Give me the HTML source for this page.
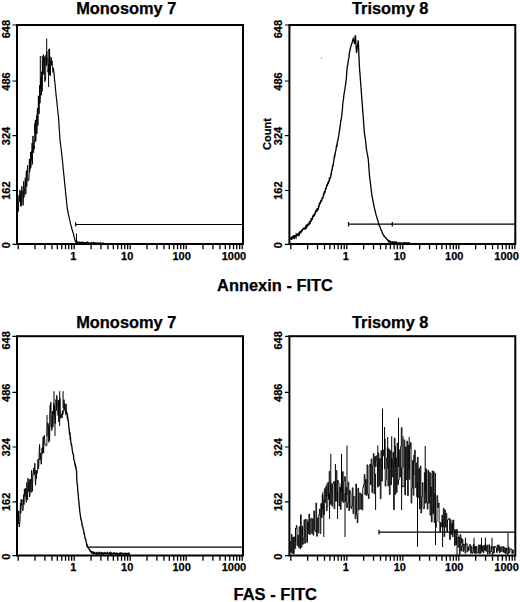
<!DOCTYPE html>
<html><head><meta charset="utf-8"><style>html,body{margin:0;padding:0;background:#fff;}svg{display:block;}</style></head>
<body><svg width="520" height="602" viewBox="0 0 520 602">
<rect width="520" height="602" fill="#fff"/>
<rect x="17" y="25" width="226.00" height="219.00" fill="none" stroke="#000" stroke-width="2"/>
<path d="M18.20 244V249.2M35.06 244V249.2M44.92 244V249.2M51.92 244V249.2M57.34 244V249.2M61.78 244V249.2M65.53 244V249.2M68.77 244V249.2M71.64 244V249.2M74.20 244V249.2M91.06 244V249.2M100.92 244V249.2M107.92 244V249.2M113.34 244V249.2M117.78 244V249.2M121.53 244V249.2M124.77 244V249.2M127.64 244V249.2M130.20 244V249.2M147.06 244V249.2M156.92 244V249.2M163.92 244V249.2M169.34 244V249.2M173.78 244V249.2M177.53 244V249.2M180.77 244V249.2M183.64 244V249.2M186.20 244V249.2M203.06 244V249.2M212.92 244V249.2M219.92 244V249.2M225.34 244V249.2M229.78 244V249.2M233.53 244V249.2M236.77 244V249.2M239.64 244V249.2M242.20 244V249.2" stroke="#000" stroke-width="1.3" fill="none"/>
<path d="M12.50 25.00H17M12.50 81.00H17M12.50 135.70H17M12.50 190.50H17M12.50 244.40H17" stroke="#000" stroke-width="1.2" fill="none"/>
<rect x="289.4" y="25" width="225.90" height="219.00" fill="none" stroke="#000" stroke-width="2"/>
<path d="M290.80 244V249.2M307.66 244V249.2M317.52 244V249.2M324.52 244V249.2M329.94 244V249.2M334.38 244V249.2M338.13 244V249.2M341.37 244V249.2M344.24 244V249.2M346.80 244V249.2M363.66 244V249.2M373.52 244V249.2M380.52 244V249.2M385.94 244V249.2M390.38 244V249.2M394.13 244V249.2M397.37 244V249.2M400.24 244V249.2M402.80 244V249.2M419.66 244V249.2M429.52 244V249.2M436.52 244V249.2M441.94 244V249.2M446.38 244V249.2M450.13 244V249.2M453.37 244V249.2M456.24 244V249.2M458.80 244V249.2M475.66 244V249.2M485.52 244V249.2M492.52 244V249.2M497.94 244V249.2M502.38 244V249.2M506.13 244V249.2M509.37 244V249.2M512.24 244V249.2M514.80 244V249.2" stroke="#000" stroke-width="1.3" fill="none"/>
<path d="M284.90 25.00H289.4M284.90 81.00H289.4M284.90 135.70H289.4M284.90 190.50H289.4M284.90 244.40H289.4" stroke="#000" stroke-width="1.2" fill="none"/>
<rect x="17" y="336.2" width="226.00" height="219.30" fill="none" stroke="#000" stroke-width="2"/>
<path d="M18.20 555.5V560.7M35.06 555.5V560.7M44.92 555.5V560.7M51.92 555.5V560.7M57.34 555.5V560.7M61.78 555.5V560.7M65.53 555.5V560.7M68.77 555.5V560.7M71.64 555.5V560.7M74.20 555.5V560.7M91.06 555.5V560.7M100.92 555.5V560.7M107.92 555.5V560.7M113.34 555.5V560.7M117.78 555.5V560.7M121.53 555.5V560.7M124.77 555.5V560.7M127.64 555.5V560.7M130.20 555.5V560.7M147.06 555.5V560.7M156.92 555.5V560.7M163.92 555.5V560.7M169.34 555.5V560.7M173.78 555.5V560.7M177.53 555.5V560.7M180.77 555.5V560.7M183.64 555.5V560.7M186.20 555.5V560.7M203.06 555.5V560.7M212.92 555.5V560.7M219.92 555.5V560.7M225.34 555.5V560.7M229.78 555.5V560.7M233.53 555.5V560.7M236.77 555.5V560.7M239.64 555.5V560.7M242.20 555.5V560.7" stroke="#000" stroke-width="1.3" fill="none"/>
<path d="M12.50 336.30H17M12.50 392.30H17M12.50 447.00H17M12.50 501.80H17M12.50 555.70H17" stroke="#000" stroke-width="1.2" fill="none"/>
<rect x="289.4" y="336.2" width="225.90" height="219.30" fill="none" stroke="#000" stroke-width="2"/>
<path d="M290.80 555.5V560.7M307.66 555.5V560.7M317.52 555.5V560.7M324.52 555.5V560.7M329.94 555.5V560.7M334.38 555.5V560.7M338.13 555.5V560.7M341.37 555.5V560.7M344.24 555.5V560.7M346.80 555.5V560.7M363.66 555.5V560.7M373.52 555.5V560.7M380.52 555.5V560.7M385.94 555.5V560.7M390.38 555.5V560.7M394.13 555.5V560.7M397.37 555.5V560.7M400.24 555.5V560.7M402.80 555.5V560.7M419.66 555.5V560.7M429.52 555.5V560.7M436.52 555.5V560.7M441.94 555.5V560.7M446.38 555.5V560.7M450.13 555.5V560.7M453.37 555.5V560.7M456.24 555.5V560.7M458.80 555.5V560.7M475.66 555.5V560.7M485.52 555.5V560.7M492.52 555.5V560.7M497.94 555.5V560.7M502.38 555.5V560.7M506.13 555.5V560.7M509.37 555.5V560.7M512.24 555.5V560.7M514.80 555.5V560.7" stroke="#000" stroke-width="1.3" fill="none"/>
<path d="M284.90 336.30H289.4M284.90 392.30H289.4M284.90 447.00H289.4M284.90 501.80H289.4M284.90 555.70H289.4" stroke="#000" stroke-width="1.2" fill="none"/>
<text transform="translate(9.8,29.1) rotate(-90)" text-anchor="middle" style="font-family:'Liberation Sans',sans-serif;font-weight:bold;stroke:#000;stroke-width:0.25px;font-size:11px">648</text>
<text transform="translate(9.8,81.5) rotate(-90)" text-anchor="middle" style="font-family:'Liberation Sans',sans-serif;font-weight:bold;stroke:#000;stroke-width:0.25px;font-size:11px">486</text>
<text transform="translate(9.8,136) rotate(-90)" text-anchor="middle" style="font-family:'Liberation Sans',sans-serif;font-weight:bold;stroke:#000;stroke-width:0.25px;font-size:11px">324</text>
<text transform="translate(9.8,190.6) rotate(-90)" text-anchor="middle" style="font-family:'Liberation Sans',sans-serif;font-weight:bold;stroke:#000;stroke-width:0.25px;font-size:11px">162</text>
<text transform="translate(9.8,245.3) rotate(-90)" text-anchor="middle" style="font-family:'Liberation Sans',sans-serif;font-weight:bold;stroke:#000;stroke-width:0.25px;font-size:11px">0</text>
<text transform="translate(282.3,29.1) rotate(-90)" text-anchor="middle" style="font-family:'Liberation Sans',sans-serif;font-weight:bold;stroke:#000;stroke-width:0.25px;font-size:11px">648</text>
<text transform="translate(282.3,81.5) rotate(-90)" text-anchor="middle" style="font-family:'Liberation Sans',sans-serif;font-weight:bold;stroke:#000;stroke-width:0.25px;font-size:11px">486</text>
<text transform="translate(282.3,136) rotate(-90)" text-anchor="middle" style="font-family:'Liberation Sans',sans-serif;font-weight:bold;stroke:#000;stroke-width:0.25px;font-size:11px">324</text>
<text transform="translate(282.3,190.6) rotate(-90)" text-anchor="middle" style="font-family:'Liberation Sans',sans-serif;font-weight:bold;stroke:#000;stroke-width:0.25px;font-size:11px">162</text>
<text transform="translate(282.3,245.3) rotate(-90)" text-anchor="middle" style="font-family:'Liberation Sans',sans-serif;font-weight:bold;stroke:#000;stroke-width:0.25px;font-size:11px">0</text>
<text transform="translate(9.8,340.40000000000003) rotate(-90)" text-anchor="middle" style="font-family:'Liberation Sans',sans-serif;font-weight:bold;stroke:#000;stroke-width:0.25px;font-size:11px">648</text>
<text transform="translate(9.8,392.8) rotate(-90)" text-anchor="middle" style="font-family:'Liberation Sans',sans-serif;font-weight:bold;stroke:#000;stroke-width:0.25px;font-size:11px">486</text>
<text transform="translate(9.8,447.3) rotate(-90)" text-anchor="middle" style="font-family:'Liberation Sans',sans-serif;font-weight:bold;stroke:#000;stroke-width:0.25px;font-size:11px">324</text>
<text transform="translate(9.8,501.9) rotate(-90)" text-anchor="middle" style="font-family:'Liberation Sans',sans-serif;font-weight:bold;stroke:#000;stroke-width:0.25px;font-size:11px">162</text>
<text transform="translate(9.8,556.6) rotate(-90)" text-anchor="middle" style="font-family:'Liberation Sans',sans-serif;font-weight:bold;stroke:#000;stroke-width:0.25px;font-size:11px">0</text>
<text transform="translate(282.3,340.40000000000003) rotate(-90)" text-anchor="middle" style="font-family:'Liberation Sans',sans-serif;font-weight:bold;stroke:#000;stroke-width:0.25px;font-size:11px">648</text>
<text transform="translate(282.3,392.8) rotate(-90)" text-anchor="middle" style="font-family:'Liberation Sans',sans-serif;font-weight:bold;stroke:#000;stroke-width:0.25px;font-size:11px">486</text>
<text transform="translate(282.3,447.3) rotate(-90)" text-anchor="middle" style="font-family:'Liberation Sans',sans-serif;font-weight:bold;stroke:#000;stroke-width:0.25px;font-size:11px">324</text>
<text transform="translate(282.3,501.9) rotate(-90)" text-anchor="middle" style="font-family:'Liberation Sans',sans-serif;font-weight:bold;stroke:#000;stroke-width:0.25px;font-size:11px">162</text>
<text transform="translate(282.3,556.6) rotate(-90)" text-anchor="middle" style="font-family:'Liberation Sans',sans-serif;font-weight:bold;stroke:#000;stroke-width:0.25px;font-size:11px">0</text>
<text transform="translate(270.9,134) rotate(-90)" text-anchor="middle" style="font-family:'Liberation Sans',sans-serif;font-weight:bold;stroke:#000;stroke-width:0.25px;font-size:11px">Count</text>
<text x="73.2" y="259.6" text-anchor="middle" style="font-family:'Liberation Sans',sans-serif;font-weight:bold;stroke:#000;stroke-width:0.25px;font-size:11px">1</text>
<text x="127.2" y="259.6" text-anchor="middle" style="font-family:'Liberation Sans',sans-serif;font-weight:bold;stroke:#000;stroke-width:0.25px;font-size:11px">10</text>
<text x="181.6" y="259.6" text-anchor="middle" style="font-family:'Liberation Sans',sans-serif;font-weight:bold;stroke:#000;stroke-width:0.25px;font-size:11px">100</text>
<text x="234" y="259.6" text-anchor="middle" style="font-family:'Liberation Sans',sans-serif;font-weight:bold;stroke:#000;stroke-width:0.25px;font-size:11px">1000</text>
<text x="345.8" y="259.6" text-anchor="middle" style="font-family:'Liberation Sans',sans-serif;font-weight:bold;stroke:#000;stroke-width:0.25px;font-size:11px">1</text>
<text x="399.8" y="259.6" text-anchor="middle" style="font-family:'Liberation Sans',sans-serif;font-weight:bold;stroke:#000;stroke-width:0.25px;font-size:11px">10</text>
<text x="454.20000000000005" y="259.6" text-anchor="middle" style="font-family:'Liberation Sans',sans-serif;font-weight:bold;stroke:#000;stroke-width:0.25px;font-size:11px">100</text>
<text x="506.6" y="259.6" text-anchor="middle" style="font-family:'Liberation Sans',sans-serif;font-weight:bold;stroke:#000;stroke-width:0.25px;font-size:11px">1000</text>
<text x="73.2" y="570.9" text-anchor="middle" style="font-family:'Liberation Sans',sans-serif;font-weight:bold;stroke:#000;stroke-width:0.25px;font-size:11px">1</text>
<text x="127.2" y="570.9" text-anchor="middle" style="font-family:'Liberation Sans',sans-serif;font-weight:bold;stroke:#000;stroke-width:0.25px;font-size:11px">10</text>
<text x="181.6" y="570.9" text-anchor="middle" style="font-family:'Liberation Sans',sans-serif;font-weight:bold;stroke:#000;stroke-width:0.25px;font-size:11px">100</text>
<text x="234" y="570.9" text-anchor="middle" style="font-family:'Liberation Sans',sans-serif;font-weight:bold;stroke:#000;stroke-width:0.25px;font-size:11px">1000</text>
<text x="345.8" y="570.9" text-anchor="middle" style="font-family:'Liberation Sans',sans-serif;font-weight:bold;stroke:#000;stroke-width:0.25px;font-size:11px">1</text>
<text x="399.8" y="570.9" text-anchor="middle" style="font-family:'Liberation Sans',sans-serif;font-weight:bold;stroke:#000;stroke-width:0.25px;font-size:11px">10</text>
<text x="454.20000000000005" y="570.9" text-anchor="middle" style="font-family:'Liberation Sans',sans-serif;font-weight:bold;stroke:#000;stroke-width:0.25px;font-size:11px">100</text>
<text x="506.6" y="570.9" text-anchor="middle" style="font-family:'Liberation Sans',sans-serif;font-weight:bold;stroke:#000;stroke-width:0.25px;font-size:11px">1000</text>
<text x="126.3" y="13.8" text-anchor="middle" style="font-family:'Liberation Sans',sans-serif;font-weight:bold;stroke:#000;stroke-width:0.25px;font-size:16.3px" textLength="100.3" lengthAdjust="spacingAndGlyphs">Monosomy 7</text>
<text x="390.2" y="13.8" text-anchor="middle" style="font-family:'Liberation Sans',sans-serif;font-weight:bold;stroke:#000;stroke-width:0.25px;font-size:16.3px" textLength="76.5" lengthAdjust="spacingAndGlyphs">Trisomy 8</text>
<text x="126.3" y="327.8" text-anchor="middle" style="font-family:'Liberation Sans',sans-serif;font-weight:bold;stroke:#000;stroke-width:0.25px;font-size:16.3px" textLength="100.3" lengthAdjust="spacingAndGlyphs">Monosomy 7</text>
<text x="390.2" y="327.8" text-anchor="middle" style="font-family:'Liberation Sans',sans-serif;font-weight:bold;stroke:#000;stroke-width:0.25px;font-size:16.3px" textLength="76.5" lengthAdjust="spacingAndGlyphs">Trisomy 8</text>
<text x="275" y="290.6" text-anchor="middle" style="font-family:'Liberation Sans',sans-serif;font-weight:bold;stroke:#000;stroke-width:0.25px;font-size:16.3px" textLength="115.8" lengthAdjust="spacingAndGlyphs">Annexin - FITC</text>
<text x="275.25" y="600.3" text-anchor="middle" style="font-family:'Liberation Sans',sans-serif;font-weight:bold;stroke:#000;stroke-width:0.25px;font-size:16.3px" textLength="83.6" lengthAdjust="spacingAndGlyphs">FAS - FITC</text>
<path d="M75.7 224.5H243M75.7 222.2V226.6" stroke="#000" stroke-width="1.2" fill="none"/>
<path d="M348.5 224.2H515M348.5 221.9V226.5M392.3 221.9V226.5" stroke="#000" stroke-width="1.2" fill="none"/>
<path d="M88.7 547.1H243" stroke="#000" stroke-width="1.2" fill="none"/>
<path d="M379 532.2H515M379 529.8V534.6" stroke="#000" stroke-width="1.2" fill="none"/>
<polyline points="18.00,203.24 18.30,211.55 18.60,200.47 18.90,195.28 19.20,196.73 19.50,201.75 19.80,189.94 20.10,191.54 20.40,196.09 20.70,206.55 21.00,191.02 21.30,205.66 21.60,188.48 21.90,186.28 22.20,191.01 22.50,191.05 22.80,203.82 23.10,205.45 23.40,201.94 23.70,181.27 24.00,197.28 24.30,194.26 24.60,188.83 24.90,185.35 25.20,177.76 25.50,178.10 25.80,194.36 26.10,174.56 26.40,170.65 26.70,186.75 27.00,182.56 27.30,170.37 27.60,165.33 27.90,178.96 28.20,181.04 28.50,180.21 28.80,180.48 29.10,175.97 29.40,158.98 29.70,172.21 30.00,160.61 30.30,168.87 30.60,152.00 30.90,167.50 31.20,156.05 31.50,151.12 31.80,160.33 32.10,143.04 32.40,164.32 32.70,138.19 33.00,135.90 33.30,140.03 33.60,152.83 33.90,145.69 34.20,148.98 34.50,144.57 34.80,123.39 35.10,133.50 35.40,119.95 35.70,141.71 36.00,136.22 36.30,123.87 36.60,115.49 36.90,133.80 37.20,111.91 37.50,107.97 37.80,125.74 38.10,124.06 38.40,95.76 38.70,110.19 39.00,114.03 39.30,112.07 39.60,85.28 39.90,103.23 40.20,99.65 40.50,96.64 40.80,77.36 41.10,77.20 41.40,95.21 41.70,71.81 42.00,91.49 42.30,87.97 42.60,62.33 42.90,60.88 43.20,54.72 43.50,54.67 43.80,74.55 44.10,56.65 44.40,59.20 44.70,81.36 45.00,81.78 45.30,77.88 45.60,79.29 45.90,55.04 46.20,57.37 46.50,65.50 46.80,51.29 47.10,57.47 47.40,58.70 47.70,58.60 48.00,72.24 48.30,68.72 48.60,70.22 48.90,49.01 49.20,54.30 49.50,74.77 49.80,56.12 50.10,64.11 50.40,75.80 50.70,60.22 51.00,60.12 51.30,57.42 51.60,65.37 51.90,61.93 52.20,60.70 52.50,66.58 52.80,72.71" fill="none" stroke="#000" stroke-width="0.9" stroke-linejoin="miter"/>
<polyline points="53.00,67.26 53.25,68.90 53.50,69.80 53.75,70.87 54.00,73.13 54.25,75.69 54.50,79.08 54.75,81.47 55.00,83.53 55.25,86.35 55.50,89.23 55.75,91.29 56.00,94.22 56.25,96.48 56.50,98.69 56.75,100.77 57.00,102.93 57.25,105.92 57.50,107.71 57.75,110.77 58.00,112.97 58.25,114.92 58.50,117.51 58.75,120.75 59.00,125.10 59.25,128.53 59.50,132.79 59.75,136.02 60.00,139.88 60.25,142.09 60.50,144.17 60.75,146.01 61.00,148.23 61.25,149.94 61.50,152.23 61.75,154.61 62.00,156.82 62.25,159.34 62.50,161.22 62.75,163.47 63.00,166.39 63.25,169.02 63.50,171.24 63.75,173.85 64.00,176.05 64.25,178.92 64.50,181.47 64.75,184.09 65.00,186.45 65.25,188.35 65.50,191.24 65.75,194.19 66.00,196.39 66.25,198.86 66.50,200.60 66.75,203.76 67.00,205.97 67.25,207.92 67.50,210.00 67.75,211.15 68.00,212.21 68.25,214.11 68.50,214.65 68.75,216.08 69.00,217.14 69.25,217.73 69.50,219.04 69.75,220.22 70.00,221.05 70.25,222.44 70.50,223.99 70.75,224.46 71.00,225.50 71.25,226.02 71.50,226.97 71.75,228.57 72.00,228.96 72.25,230.33 72.50,230.50 72.75,232.05 73.00,232.55 73.25,233.36 73.50,233.83 73.75,235.24 74.00,236.46 74.25,237.69 74.50,237.84 74.75,239.34 75.00,240.18 75.25,241.08 75.50,241.78 75.75,241.89 76.00,241.41 76.25,242.25 76.50,241.97 76.75,242.28 77.00,242.71 77.25,242.53 77.50,242.09 77.75,243.03 78.00,243.16 78.25,242.39 78.50,242.31 78.75,243.21 79.00,243.06 79.25,243.19 79.50,242.78 79.75,242.23 80.00,242.69 80.25,242.92 80.50,242.27 80.75,242.38 81.00,242.63 81.25,243.07 81.50,242.56 81.75,242.62 82.00,242.74 82.25,242.50 82.50,243.31 82.75,242.59 83.00,243.42 83.25,242.54 83.50,242.50 83.75,242.52 84.00,242.70 84.25,243.36 84.50,242.89 84.75,243.01 85.00,242.84 85.25,242.79 85.50,242.64 85.75,243.15 86.00,242.75 86.25,242.79 86.50,242.99 86.75,243.38 87.00,242.60 87.25,243.26 87.50,243.04 87.75,242.61 88.00,243.47 88.25,243.41 88.50,242.87 88.75,242.79 89.00,243.27 89.25,243.31 89.50,243.35 89.75,243.17 90.00,243.38 90.25,243.50 90.50,242.98 90.75,242.94 91.00,243.33 91.25,242.81 91.50,243.24 91.75,242.95 92.00,242.79 92.25,243.16 92.50,243.32 92.75,243.19 93.00,243.01 93.25,243.38 93.50,242.86 93.75,243.37 94.00,243.06 94.25,243.57 94.50,242.91 94.75,243.20 95.00,243.05 95.25,243.45 95.50,243.07 95.75,243.15 96.00,243.10 96.25,243.48 96.50,243.60 96.75,243.10 97.00,243.26 97.25,243.60 97.50,243.26 97.75,243.60 98.00,243.05 98.25,243.28 98.50,243.60 98.75,243.60 99.00,243.27 99.25,243.60 99.50,243.10 99.75,243.32 100.00,243.30 100.25,243.10 100.50,243.31 100.75,243.18 101.00,243.23 101.25,243.59 101.50,243.36 101.75,243.39 102.00,243.60 102.25,243.32 102.50,243.13 102.75,243.59 103.00,243.13 103.25,243.15 103.50,243.26 103.75,243.60 104.00,243.27" fill="none" stroke="#000" stroke-width="1.2" stroke-linejoin="miter"/>
<path d="M46.70 64.30V38.60M49.60 64.60V48.60M40.30 87.60V56.00M42.30 73.73V56.00M45.00 66.00V56.60M48.60 64.00V87.00M76.50 242.21V233.50" stroke="#000" stroke-width="1.0" fill="none"/>
<polyline points="290.50,239.40 290.75,237.25 291.00,238.42 291.25,239.82 291.50,237.10 291.75,237.87 292.00,236.64 292.25,238.53 292.50,238.54 292.75,236.82 293.00,236.84 293.25,235.71 293.50,238.02 293.75,235.43 294.00,237.08 294.25,238.51 294.50,238.42 294.75,235.06 295.00,236.44 295.25,236.14 295.50,235.92 295.75,236.74 296.00,237.25 296.25,234.45 296.50,234.89 296.75,234.98 297.00,234.17 297.25,234.15 297.50,236.27 297.75,234.07 298.00,236.28 298.25,233.36 298.50,234.69 298.75,232.52 299.00,234.91 299.25,235.07 299.50,232.65 299.75,232.09 300.00,233.32 300.25,232.38 300.50,232.47 300.75,233.45 301.00,230.75 301.25,232.33 301.50,231.15 301.75,230.28 302.00,231.43 302.25,229.73 302.50,229.90 302.75,229.12 303.00,228.91 303.25,229.88 303.50,227.99 303.75,229.34 304.00,227.41 304.25,229.31 304.50,227.55 304.75,229.69 305.00,228.02 305.25,227.21 305.50,229.02 305.75,225.87 306.00,225.62 306.25,227.86 306.50,227.29 306.75,227.24 307.00,224.38 307.25,225.50 307.50,226.52 307.75,225.21 308.00,224.51 308.25,223.44 308.50,225.48 308.75,223.64 309.00,225.08 309.25,221.78 309.50,224.56 309.75,220.97 310.00,221.90 310.25,222.31 310.50,220.23 310.75,220.03 311.00,221.86 311.25,219.04 311.50,219.40 311.75,218.92 312.00,218.01 312.25,219.93 312.50,218.30 312.75,215.99 313.00,215.85 313.25,216.98 313.50,215.68 313.75,216.26 314.00,216.11 314.25,214.89 314.50,215.12 314.75,213.31 315.00,214.85 315.25,212.27 315.50,211.58 315.75,212.33 316.00,211.94 316.25,210.08 316.50,209.80 316.75,211.88 317.00,208.74 317.25,209.32 317.50,207.88 317.75,210.36 318.00,209.14 318.25,209.14 318.50,208.47 318.75,205.12 319.00,207.20 319.25,204.61 319.50,203.38 319.75,203.20 320.00,202.18 320.25,204.24 320.50,201.43 320.75,201.05 321.00,200.01 321.25,201.96 321.50,201.24 321.75,200.29 322.00,198.87 322.25,197.73 322.50,197.79 322.75,198.28 323.00,198.05 323.25,195.53 323.50,194.54 323.75,194.96 324.00,194.91 324.25,192.37 324.50,191.31 324.75,191.29 325.00,192.92 325.25,191.24 325.50,188.52 325.75,188.32 326.00,188.53 326.25,189.28 326.50,186.57 326.75,185.29 327.00,185.63 327.25,184.97 327.50,184.98 327.75,183.19 328.00,183.33 328.25,184.02 328.50,181.04 328.75,181.80 329.00,181.55 329.25,179.39 329.50,179.82 329.75,178.31 330.00,177.91 330.25,178.06 330.50,177.87 330.75,176.04 331.00,173.96 331.25,174.20 331.50,172.31 331.75,169.94 332.00,169.95 332.25,168.78 332.50,166.27 332.75,165.35 333.00,165.64 333.25,163.92 333.50,163.00 333.75,160.75 334.00,159.46 334.25,157.32 334.50,155.90 334.75,156.43 335.00,155.41 335.25,152.71 335.50,151.87 335.75,150.83 336.00,149.85 336.25,147.57 336.50,145.78 336.75,144.97 337.00,145.27 337.25,142.52 337.50,141.19 337.75,141.13 338.00,139.31 338.25,138.57 338.50,136.92 338.75,135.61 339.00,133.99 339.25,131.62 339.50,130.58 339.75,129.46 340.00,126.15 340.25,126.14 340.50,123.07 340.75,121.25 341.00,120.61 341.25,119.12 341.50,117.21 341.75,115.44 342.00,113.12 342.25,110.64 342.50,108.32 342.75,104.70 343.00,101.98 343.25,100.79 343.50,99.00 343.75,96.46 344.00,94.46 344.25,92.98 344.50,91.70 344.75,89.73 345.00,88.92 345.25,86.51 345.50,85.20 345.75,83.77 346.00,80.94 346.25,79.15 346.50,76.44 346.75,72.61 347.00,69.62 347.25,67.20 347.50,64.94 347.75,65.80 348.00,62.26 348.25,61.82 348.50,58.69 348.75,58.62 349.00,57.35 349.25,53.00 349.50,52.46 349.75,51.24 350.00,50.20 350.25,49.25 350.50,47.73 350.75,46.94 351.00,45.85 351.25,45.05 351.50,44.36 351.75,43.64 352.00,42.94 352.25,41.94 352.50,41.16 352.75,40.28 353.00,39.40 353.25,38.57 353.50,39.33 353.75,40.50 354.00,41.67 354.25,42.83 354.50,44.00 354.75,41.28 355.00,38.56 355.25,35.83 355.50,35.91 355.75,40.18 356.00,44.45 356.25,48.73 356.50,53.00 356.75,51.21 357.00,49.42 357.25,47.63 357.50,45.83 357.75,44.04 358.00,42.25 358.25,40.46 358.50,45.05 358.75,51.16 359.00,57.19 359.25,63.23 359.50,67.82 359.75,71.27 360.00,74.04 360.25,77.76 360.50,80.81 360.75,84.04 361.00,87.31 361.25,90.92 361.50,94.19 361.75,97.93 362.00,100.83 362.25,104.22 362.50,107.37 362.75,111.08 363.00,114.00 363.25,116.98 363.50,121.02 363.75,124.05 364.00,127.75 364.25,130.94 364.50,133.71 364.75,135.44 365.00,136.96 365.25,138.43 365.50,140.45 365.75,142.68 366.00,145.26 366.25,147.98 366.50,149.56 366.75,151.12 367.00,152.36 367.25,153.86 367.50,154.65 367.75,156.34 368.00,157.35 368.25,159.26 368.50,161.93 368.75,165.77 369.00,168.89 369.25,172.09 369.50,175.76 369.75,177.98 370.00,180.23 370.25,181.77 370.50,183.67 370.75,185.97 371.00,187.95 371.25,190.00 371.50,192.00 371.75,194.61 372.00,195.56 372.25,197.06 372.50,198.49 372.75,199.48 373.00,201.24 373.25,202.48 373.50,203.70 373.75,205.02 374.00,205.47 374.25,207.67 374.50,208.24 374.75,209.32 375.00,210.84 375.25,211.11 375.50,212.64 375.75,213.63 376.00,214.41 376.25,215.41 376.50,216.25 376.75,216.99 377.00,217.93 377.25,218.96 377.50,219.24 377.75,220.00 378.00,220.81 378.25,221.79 378.50,223.03 378.75,224.28 379.00,224.93 379.25,225.25 379.50,226.14 379.75,226.32 380.00,226.58 380.25,227.75 380.50,228.33 380.75,229.25 381.00,229.91 381.25,230.02 381.50,230.17 381.75,231.37 382.00,232.21 382.25,232.43 382.50,233.33 382.75,233.60 383.00,234.33 383.25,234.67 383.50,235.14 383.75,235.31 384.00,236.31 384.25,236.43 384.50,236.25 384.75,236.82 385.00,237.32 385.25,237.55 385.50,237.68 385.75,237.73 386.00,237.92 386.25,238.64 386.50,239.12 386.75,239.24 387.00,239.55 387.25,239.82 387.50,239.73 387.75,240.28 388.00,240.15 388.25,240.22 388.50,241.22 388.75,240.81 389.00,241.35 389.25,240.95 389.50,241.24 389.75,241.38 390.00,242.01 390.25,241.77 390.50,241.45 390.75,242.04 391.00,242.04 391.25,242.11 391.50,242.79 391.75,242.39 392.00,242.05 392.25,242.18 392.50,242.02 392.75,242.68 393.00,242.97 393.25,242.90 393.50,242.14 393.75,242.37 394.00,242.35 394.25,242.89 394.50,242.98 394.75,242.35 395.00,242.90 395.25,243.10 395.50,243.15 395.75,242.40 396.00,242.94 396.25,242.52 396.50,243.04 396.75,243.16 397.00,242.59 397.25,242.99 397.50,243.09 397.75,243.20 398.00,243.11 398.25,242.98 398.50,243.25 398.75,243.27 399.00,242.97 399.25,243.43 399.50,243.36 399.75,243.24 400.00,243.40 400.25,243.09 400.50,243.43 400.75,243.31 401.00,243.44 401.25,243.08 401.50,243.06 401.75,243.26 402.00,243.44 402.25,243.40 402.50,243.42 402.75,243.08 403.00,243.39 403.25,243.45 403.50,242.97 403.75,243.39 404.00,243.36 404.25,243.06 404.50,243.32 404.75,243.05 405.00,243.36 405.25,243.20 405.50,243.39 405.75,243.07 406.00,243.45 406.25,243.23 406.50,243.27 406.75,243.05 407.00,243.34 407.25,243.26 407.50,243.24 407.75,242.97 408.00,243.16 408.25,243.30 408.50,243.04 408.75,243.14 409.00,242.97 409.25,243.50 409.50,243.23 409.75,243.10 410.00,243.19" fill="none" stroke="#000" stroke-width="1.3" stroke-linejoin="miter"/>
<circle cx="321.5" cy="58" r="0.6" fill="#555"/>
<polyline points="18.00,510.47 18.40,524.18 18.80,511.06 19.20,527.04 19.60,524.70 20.00,521.28 20.40,503.05 20.80,513.22 21.20,499.44 21.60,505.30 22.00,499.36 22.40,508.87 22.80,510.75 23.20,509.45 23.60,494.72 24.00,504.71 24.40,488.78 24.80,495.64 25.20,496.74 25.60,488.42 26.00,500.08 26.40,502.46 26.80,482.45 27.20,487.48 27.60,499.65 28.00,478.17 28.40,491.21 28.80,491.55 29.20,479.63 29.60,497.00 30.00,494.05 30.40,478.99 30.80,489.01 31.20,492.55 31.60,470.23 32.00,475.82 32.40,491.42 32.80,477.15 33.20,472.44 33.60,468.25 34.00,474.75 34.40,474.35 34.80,463.17 35.20,478.75 35.60,485.21 36.00,469.99 36.40,478.73 36.80,470.93 37.20,473.27 37.60,469.40 38.00,459.19 38.40,468.98 38.80,466.17 39.20,451.90 39.60,444.47 40.00,460.04 40.40,453.17 40.80,458.11 41.20,464.24 41.60,458.66 42.00,447.75 42.40,454.06 42.80,443.91 43.20,436.72 43.60,453.02 44.00,437.32 44.40,435.26 44.80,444.41 45.20,444.41 45.60,444.48 46.00,445.92 46.40,445.81 46.80,445.73 47.20,427.95 47.60,422.90 48.00,423.19 48.40,423.72 48.80,442.35 49.20,426.40 49.60,440.63 50.00,412.55 50.40,411.07 50.80,402.14 51.20,414.66 51.60,430.57 52.00,429.44 52.40,411.04 52.80,427.29 53.20,425.39 53.60,402.93 54.00,414.42 54.40,405.70 54.80,418.86 55.20,423.65 55.60,416.96 56.00,399.44 56.40,410.50 56.80,395.33 57.20,401.49 57.60,402.06 58.00,415.53 58.40,400.15 58.80,421.73 59.20,402.83 59.60,404.87 60.00,398.52 60.40,414.54 60.80,418.29 61.20,416.50 61.60,413.87 62.00,417.90 62.40,410.65 62.80,414.77 63.20,413.02 63.60,412.65 64.00,399.73 64.40,410.23 64.80,403.88 65.20,406.00 65.60,414.82 66.00,415.02" fill="none" stroke="#000" stroke-width="0.9" stroke-linejoin="miter"/>
<polyline points="66.00,403.45 66.25,409.94 66.50,413.36 66.75,412.00 67.00,413.54 67.25,416.41 67.50,415.87 67.75,417.59 68.00,421.28 68.25,419.68 68.50,423.11 68.75,425.73 69.00,429.42 69.25,428.63 69.50,433.06 69.75,432.61 70.00,432.73 70.25,438.21 70.50,437.87 70.75,441.33 71.00,442.76 71.25,444.80 71.50,443.49 71.75,446.76 72.00,447.23 72.25,450.52 72.50,450.74 72.75,453.20 73.00,453.62 73.25,454.53 73.50,454.65 73.75,459.33 74.00,459.96 74.25,460.60 74.50,461.00 74.75,463.33 75.00,464.53 75.25,463.75 75.50,467.33 75.75,465.72 76.00,468.44 76.25,469.83 76.50,470.30 76.75,478.26 77.00,483.16 77.25,483.70 77.50,486.15 77.75,490.72 78.00,492.92 78.25,494.17 78.50,498.82 78.75,500.76 79.00,502.39 79.25,507.02 79.50,507.23 79.75,511.15 80.00,512.74 80.25,514.70 80.50,516.23 80.75,518.80 81.00,518.74 81.25,520.40 81.50,520.87 81.75,522.35 82.00,525.19 82.25,525.21 82.50,526.28 82.75,527.08 83.00,527.51 83.25,529.26 83.50,530.01 83.75,531.28 84.00,533.48 84.25,533.38 84.50,534.26 84.75,537.02 85.00,537.13 85.25,538.96 85.50,538.98 85.75,540.05 86.00,540.72 86.25,542.37 86.50,543.28 86.75,544.81 87.00,545.80 87.25,545.26 87.50,546.23 87.75,547.23 88.00,547.06 88.25,547.12 88.50,547.84 88.75,548.68 89.00,548.87 89.25,549.02 89.50,549.78 89.75,549.94 90.00,550.87 90.25,551.20 90.50,551.35 90.75,551.18 91.00,551.55 91.25,552.61 91.50,552.68 91.75,551.71 92.00,551.69 92.25,552.70 92.50,552.47 92.75,552.97 93.00,553.28 93.25,553.11 93.50,552.58 93.75,553.47 94.00,552.75 94.25,552.90 94.50,553.07 94.75,552.76 95.00,553.48 95.25,553.72 95.50,553.58 95.75,553.25 96.00,553.15 96.25,553.73 96.50,553.09 96.75,553.76 97.00,552.81 97.25,552.89 97.50,553.02 97.75,553.65 98.00,553.59 98.25,553.66 98.50,553.12 98.75,553.90 99.00,553.88 99.25,553.66 99.50,553.54 99.75,552.87 100.00,553.31 100.25,553.90 100.50,553.71 100.75,553.64 101.00,553.14 101.25,553.96 101.50,553.47 101.75,552.92 102.00,553.33 102.25,553.22 102.50,553.67 102.75,553.14 103.00,553.46 103.25,553.95 103.50,553.22 103.75,553.05 104.00,553.27 104.25,553.52 104.50,553.09 104.75,553.58 105.00,553.78 105.25,553.05 105.50,553.33 105.75,553.00 106.00,553.15 106.25,553.44 106.50,553.31 106.75,553.35 107.00,553.03 107.25,554.06 107.50,553.05 107.75,554.06 108.00,553.09 108.25,553.46 108.50,553.58 108.75,554.00 109.00,553.68 109.25,553.71 109.50,553.27 109.75,553.04 110.00,553.93 110.25,553.22 110.50,553.94 110.75,553.21 111.00,553.93 111.25,553.39 111.50,553.94 111.75,553.44 112.00,553.45 112.25,553.31 112.50,553.67 112.75,553.95 113.00,554.04 113.25,553.60 113.50,553.25 113.75,553.71 114.00,553.82 114.25,553.57 114.50,553.19 114.75,553.57 115.00,553.88 115.25,554.01 115.50,553.95 115.75,553.42 116.00,553.67 116.25,553.49 116.50,553.84 116.75,554.09 117.00,553.46 117.25,553.74 117.50,553.36 117.75,553.50 118.00,554.18 118.25,554.07 118.50,554.18 118.75,554.02 119.00,553.89 119.25,553.50 119.50,554.18 119.75,553.87 120.00,553.56 120.25,553.24 120.50,553.91 120.75,553.31 121.00,553.60 121.25,553.65 121.50,553.81 121.75,553.35 122.00,554.15 122.25,553.36 122.50,553.51 122.75,553.79 123.00,553.76 123.25,553.50 123.50,553.39 123.75,553.87 124.00,553.69 124.25,553.73 124.50,553.84 124.75,554.05 125.00,554.29 125.25,553.40 125.50,553.70 125.75,554.26 126.00,554.08 126.25,554.08 126.50,553.55 126.75,553.33 127.00,553.53 127.25,554.02 127.50,554.20 127.75,554.18 128.00,554.22 128.25,553.50 128.50,553.67 128.75,554.00 129.00,553.46 129.25,554.05 129.50,554.04 129.75,553.93 130.00,553.88" fill="none" stroke="#000" stroke-width="1.3" stroke-linejoin="miter"/>
<path d="M54.00 412.00V391.20M59.70 408.00V391.20M63.10 407.90V391.20M55.00 410.67V436.00M59.70 408.00V426.00M50.00 426.80V405.00M47.00 436.40V415.00" stroke="#000" stroke-width="1.0" fill="none"/>
<path d="M290.00 543.49V541.56H290.70V552.79H291.40V534.40H292.10V553.38H292.80V537.10H293.50V553.62H294.20V536.98H294.90V548.54H295.60V528.75H296.30V525.55H297.00V545.53H297.70V535.15H298.40V547.41H299.10V526.72H299.80V548.64H300.50V514.75H301.20V547.29H301.90V526.12H302.60V544.29H303.30V538.09H304.00V519.87H304.70V543.38H305.40V519.33H306.10V519.90H306.80V542.45H307.50V522.22H308.20V533.67H308.90V514.00H309.60V534.58H310.30V519.77H311.00V518.28H311.70V533.56H312.40V518.85H313.10V535.21H313.80V510.83H314.50V529.94H315.20V531.37H315.90V503.05H316.60V536.29H317.30V518.03H318.00V532.86H318.70V514.66H319.40V508.97H320.10V533.64H320.80V503.52H321.50V517.63H322.20V495.09H322.90V499.61H323.60V514.60H324.30V488.78H325.00V502.66H325.70V486.46H326.40V510.75H327.10V506.51H327.80V482.39H328.50V499.33H329.20V471.41H329.90V482.92H330.60V504.43H331.30V483.86H332.00V506.21H332.70V483.86H333.40V481.83H334.10V508.81H334.80V481.35H335.50V501.16H336.20V470.48H336.90V501.23H337.60V480.30H338.30V482.80H339.00V506.10H339.70V487.31H340.40V509.54H341.10V483.44H341.80V501.15H342.50V471.58H343.20V502.46H343.90V481.11H344.60V476.57H345.30V501.56H346.00V487.51H346.70V507.65H347.40V502.91H348.10V482.20H348.80V510.50H349.50V490.39H350.20V493.20H350.90V508.46H351.60V506.11H352.30V487.80H353.00V513.67H353.70V496.50H354.40V496.80H355.10V518.62H355.80V483.92H356.50V514.90H357.20V522.76H357.90V488.15H358.60V509.87H359.30V493.08H360.00V493.02H360.70V509.26H361.40V493.97H362.10V509.97H362.80V487.33H363.50V484.77H364.20V474.51H364.90V494.63H365.60V479.35H366.30V495.52H367.00V464.84H367.70V493.90H368.40V498.55H369.10V466.21H369.80V464.15H370.50V484.71H371.20V458.94H371.90V492.69H372.60V465.16H373.30V453.56H374.00V493.82H374.70V456.57H375.40V466.69H376.10V455.77H376.80V460.72H377.50V487.16H378.20V453.09H378.90V485.68H379.60V458.41H380.30V498.77H381.00V450.68H381.70V481.09H382.40V449.59H383.10V455.86H383.80V450.08H384.50V439.14H385.20V486.18H385.90V479.77H386.60V457.94H387.30V447.63H388.00V485.97H388.70V449.10H389.40V494.52H390.10V450.82H390.80V484.81H391.50V459.03H392.20V476.92H392.90V452.51H393.60V509.69H394.30V438.03H395.00V494.35H395.70V457.83H396.40V492.41H397.10V443.15H397.80V484.46H398.50V479.76H399.20V449.85H399.90V476.94H400.60V446.38H401.30V427.66H402.00V486.88H402.70V485.86H403.40V486.61H404.10V439.82H404.80V494.99H405.50V446.92H406.20V479.73H406.90V441.08H407.60V495.73H408.30V444.95H409.00V479.31H409.70V448.34H410.40V442.52H411.10V503.09H411.80V487.97H412.50V460.56H413.20V495.31H413.90V461.54H414.60V450.18H415.30V487.66H416.00V462.93H416.70V496.72H417.40V457.17H418.10V497.69H418.80V468.36H419.50V508.93H420.20V466.05H420.90V513.00H421.60V496.82H422.30V482.65H423.00V508.58H423.70V508.61H424.40V472.68H425.10V503.20H425.80V468.75H426.50V502.20H427.20V509.15H427.90V470.14H428.60V503.28H429.30V472.32H430.00V515.23H430.70V487.11H431.40V521.97H432.10V470.90H432.80V513.75H433.50V471.54H434.20V522.47H434.90V493.61H435.60V527.51H436.30V521.64H437.00V495.66H437.70V507.47H438.40V503.01H439.10V522.30H439.80V531.70H440.50V522.55H441.20V526.87H441.90V515.14H442.60V526.97H443.30V508.29H444.00V536.69H444.70V510.00H445.40V527.11H446.10V513.24H446.80V531.80H447.50V519.98H448.20V519.02H448.90V518.30H449.60V539.70H450.30V519.60H451.00V534.42H451.70V523.27H452.40V536.78H453.10V520.12H453.80V529.77H454.50V545.57H455.20V529.77H455.90V544.73H456.60V529.39H457.30V534.48H458.00V547.19H458.70V536.86H459.40V554.50H460.10V534.62H460.80V551.00H461.50V546.42H462.20V539.21H462.90V551.64H463.60V544.05H464.30V549.76H465.00V553.25H465.70V544.35H466.40V543.66H467.10V552.02H467.80V546.88H468.50V550.56H469.20V545.13H469.90V544.51H470.60V553.15H471.30V546.31H472.00V553.31H472.70V552.12H473.40V544.46H474.10V553.23H474.80V546.29H475.50V553.50H476.20V546.54H476.90V552.73H477.60V553.07H478.30V545.01H479.00V553.31H479.70V544.80H480.40V553.25H481.10V546.39H481.80V551.64H482.50V545.90H483.20V552.90H483.90V545.20H484.60V550.58H485.30V547.12H486.00V551.25H486.70V544.94H487.40V553.87H488.10V551.17H488.80V544.75H489.50V553.87H490.20V551.42H490.90V546.22H491.60V551.89H492.30V554.50H493.00V546.64H493.70V552.93H494.40V546.39H495.10V546.48H495.80V548.06H496.50V552.61H497.20V545.13H497.90V550.78H498.60V544.93H499.30V552.76H500.00V547.05H500.70V551.73H501.40V546.79H502.10V546.58H502.80V552.13H503.50V546.73H504.20V552.76H504.90V548.05H505.60V553.75H506.30V548.83H507.00V552.18H507.70V554.10H508.40V547.09H509.10V552.76H509.80V548.87H510.50V549.33H511.20V549.00H511.90V553.61H512.60V549.97H513.30V553.02H514.00" fill="none" stroke="#000" stroke-width="0.9"/>
<path d="M330.80 492.84V453.80M335.40 492.00V464.00M341.50 492.30V453.80M347.00 495.00V445.50M377.80 472.32V445.50M382.50 470.00V408.60M384.60 469.16V427.00M387.70 468.46V437.00M391.70 467.66V436.30M395.40 467.00V446.00M398.50 467.00V417.80M403.00 467.60V436.30M409.20 469.68V437.00M413.80 475.32V454.80M425.20 492.16V446.00M430.80 496.64V473.00M435.40 501.60V473.00M322.70 509.65V492.40M326.90 496.10V483.50M308.00 530.00V519.40M295.50 541.42V528.00M302.50 535.50V528.00M345.00 493.00V537.00M375.60 473.64V510.00M401.60 467.32V510.00M417.50 482.00V546.80M435.50 502.00V545.00M442.60 519.60V547.00M457.00 536.80V555.00M329.60 493.40V519.00M337.60 492.00V519.00M323.80 505.07V537.00M453.00 531.20V520.00M461.50 543.25V537.70M465.40 547.47V537.70M474.00 549.07V537.70M481.50 549.19V537.70M485.40 549.26V537.70M492.00 549.37V537.70M508.00 550.43V533.00M506.50 550.21V547.70" stroke="#000" stroke-width="1.0" fill="none"/>
</svg></body></html>
